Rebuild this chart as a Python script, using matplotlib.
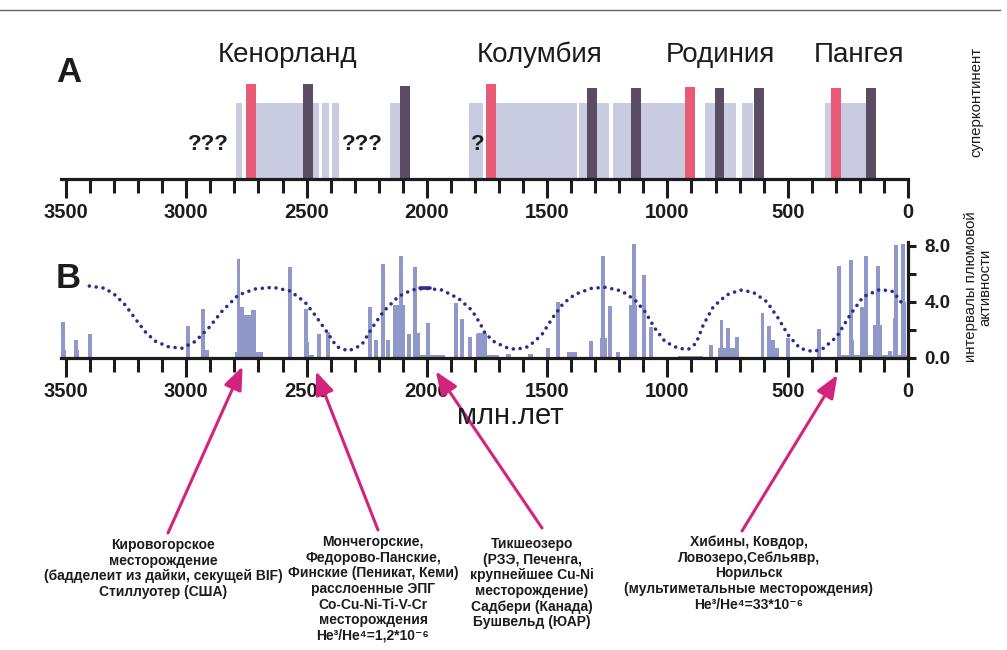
import matplotlib
matplotlib.use('Agg')
import matplotlib.pyplot as plt
from matplotlib.lines import Line2D
from matplotlib.ticker import MultipleLocator

# ---------------- data ----------------
tick_values = [3500, 3000, 2500, 2000, 1500, 1000, 500, 0]
tick_labels = ['3500', '3000', '2500', '2000', '1500', '1000', '500', '0']

supercontinents = ['Кенорланд', 'Колумбия', 'Родиния', 'Пангея']
super_age = [2581, 1530, 781, 204]

# panel A: supercontinent existence intervals (old, young), Ma
light_old = [2795, 2710, 2436, 2393, 2153, 1826, 1712, 1368, 1225, 845, 692, 343]
light_young = [2767, 2447, 2408, 2365, 2112, 1766, 1375, 1243, 887, 715, 644, 171]
light_h = [76] * 12
# assembly events (red)
red_old = [2753, 1755, 928, 321]
red_young = [2710, 1712, 886, 280]
red_h = [95, 95, 92, 91]
# break-up events (dark)
dark_old = [2514, 2112, 1335, 1151, 804, 641, 174]
dark_young = [2472, 2070, 1294, 1110, 763, 599, 132]
dark_h = [95, 93, 91, 91, 91, 91, 91]

question_age = [2909, 2269, 1789]
question_txt = ['???', '???', '?']

# panel B: plume activity intervals - narrow spikes
spike_age = [3511, 3458, 3400, 2992, 2929, 2783, 2569, 2504, 2448, 2412,
             2235, 2211, 2181, 2160, 2107, 2073, 2049, 1994, 1880, 1853,
             1821, 1786, 1498, 1456, 1318, 1267, 1239, 1204, 1138, 1097,
             1070, 820, 775, 747, 712, 605, 578, 561, 543, 500,
             369, 287, 238, 192, 175, 123, 75, 51, 22]
spike_h = [2.55, 1.29, 1.71, 2.31, 3.5, 7.07, 6.52, 3.5, 1.71, 1.83,
           3.67, 1.29, 6.69, 1.29, 7.31, 1.71, 6.52, 2.48, 3.9, 2.76,
           1.52, 1.71, 0.69, 4.02, 1.21, 7.31, 3.74, 0.4, 8.12, 5.93,
           2.2, 0.93, 2.71, 2.12, 1.48, 3.19, 2.29, 1.29, 0.69, 1.4,
           2.07, 6.6, 7.0, 3.67, 7.31, 6.6, 0.5, 8.07, 8.12]
spike_w = 16
# panel B: wider blocks (old, young, height)
block_old = [3520, 3468, 2940, 2798, 2779, 2758, 2731, 2510, 2510, 2139,
             2055, 2030, 1793, 1751, 1671, 1580, 1419, 1280, 1160, 957,
             789, 245, 144, 64, 29, 290]
block_young = [3500, 3448, 2905, 2682, 2758, 2731, 2710, 2490, 2470, 2091,
               2030, 1925, 1751, 1700, 1651, 1560, 1377, 1250, 1128, 854,
               705, 225, 109, 40, 8, 0]
block_h = [0.6, 0.55, 0.57, 0.45, 3.67, 3.1, 3.4, 1.17, 0.2, 3.79,
           1.79, 0.25, 1.76, 0.2, 0.3, 0.3, 0.4, 1.4, 3.79, 0.12,
           0.74, 1.3, 2.36, 2.83, 4.0, 0.2]

# cyclic trend (dotted curve)
curve_age = [3403, 3338, 3296, 3254, 3213, 3171, 3130, 3075, 3019, 2964,
             2908, 2853, 2784, 2714, 2640, 2569, 2507, 2465, 2416, 2375,
             2326, 2271, 2229, 2181, 2119, 2063, 2008, 1938, 1869, 1814,
             1779, 1758, 1717, 1661, 1627, 1578, 1523, 1474, 1433, 1384,
             1315, 1259, 1190, 1135, 1093, 1052, 1010, 955, 913, 881,
             851, 809, 754, 698, 643, 587, 539, 498, 449, 394,
             352, 296, 241, 186, 116, 61, 20]
curve_val = [5.14, 4.98, 4.5, 3.79, 2.83, 1.88, 1.21, 0.81, 0.69, 1.17,
             2.12, 3.31, 4.5, 4.93, 5.05, 4.79, 4.0, 3.07, 1.88, 0.81,
             0.5, 0.93, 2.12, 3.31, 4.38, 4.86, 4.98, 4.86, 4.26, 3.43,
             2.48, 1.76, 1.12, 0.69, 0.62, 0.81, 1.64, 2.95, 3.9, 4.55,
             4.98, 5.05, 4.79, 4.14, 3.31, 2.12, 1.17, 0.69, 0.62, 1.05,
             2.36, 3.67, 4.5, 4.86, 4.69, 4.02, 2.83, 1.64, 0.69, 0.45,
             0.69, 1.52, 3.07, 4.38, 4.9, 4.74, 3.79]
dash_age = [2030, 1985]
dash_val = [4.98, 4.98]

y_ticks_B = [0, 4, 8]
y_labels_B = ['0.0', '4.0', '8.0']

arrow_age = [2766, 2461, 1963, 293]
notes = [
    "Кировогорское\nместорождение\n(бадделеит из дайки, секущей BIF)\nСтиллуотер (США)",
    "Мончегорские,\nФедорово-Панские,\nФинские (Пеникат, Кеми)\nрасслоенные ЭПГ\nCo-Cu-Ni-Ti-V-Cr\nместорождения\nHe³/He⁴=1,2*10⁻⁶",
    "Тикшеозеро\n(РЗЭ, Печенга,\nкрупнейшее Cu-Ni\nместорождение)\nСадбери (Канада)\nБушвельд (ЮАР)",
    "Хибины, Ковдор,\nЛовозеро,Себльявр,\nНорильск\n(мультиметальные месторождения)\nHe³/He⁴=33*10⁻⁶",
]

# ---------------- style ----------------
W, H = 1007, 650
SANS = ['Liberation Sans', 'DejaVu Sans']
plt.rcParams['font.family'] = SANS

C_LIGHT = '#c9cce1'
C_RED = '#e85a75'
C_DARK = '#5a4c62'
C_BAR = '#9097c9'
C_CURVE = '#2b2f8c'
C_ARROW = '#d4237d'
C_TXT = '#1c1c1c'

fig = plt.figure(figsize=(W / 100, H / 100), dpi=100)


def fx(px):
    return px / W


def fy(py):
    return 1 - py / H


X_LEFT, X_RIGHT = 60.7, 908.0
XLIM = (3522, 0)

# frame line
fig.add_artist(Line2D([0, fx(1000)], [fy(10), fy(10)], color='#666666', lw=1.0))


def style_xaxis(ax):
    ax.set_xlim(*XLIM)
    for s in ['top', 'left', 'right']:
        ax.spines[s].set_visible(False)
    ax.spines['bottom'].set_linewidth(2.3)
    ax.spines['bottom'].set_color(C_TXT)
    ax.xaxis.set_minor_locator(MultipleLocator(100))
    ax.set_xticks(tick_values)
    ax.set_xticklabels(tick_labels, fontweight='bold', fontsize=14.5, color=C_TXT)
    ax.tick_params(axis='x', which='major', length=13.5, width=2.2, pad=3.5, color=C_TXT)
    ax.tick_params(axis='x', which='minor', length=10, width=2.2, color=C_TXT)
    ax.patch.set_alpha(0)


# ---------------- panel A ----------------
axA = fig.add_axes([fx(X_LEFT), fy(179), fx(X_RIGHT - X_LEFT), 100 / H])
style_xaxis(axA)
axA.set_ylim(0, 100)
axA.set_yticks([])

axA.bar(light_young, light_h,
        width=[o - y for o, y in zip(light_old, light_young)],
        align='edge', color=C_LIGHT, linewidth=0, zorder=1)
axA.bar(red_young, red_h, width=[o - y for o, y in zip(red_old, red_young)],
        align='edge', color=C_RED, linewidth=0, zorder=2)
axA.bar(dark_young, dark_h, width=[o - y for o, y in zip(dark_old, dark_young)],
        align='edge', color=C_DARK, linewidth=0, zorder=2)

for a, t in zip(question_age, question_txt):
    axA.text(a, 34, t, ha='center', va='center', fontsize=16, fontweight='bold', color=C_TXT)

for a, name in zip(super_age, supercontinents):
    fig.text(fx(X_RIGHT - a * (X_RIGHT - 66) / 3500), fy(55), name, ha='center', va='center',
             fontsize=20, color=C_TXT)

fig.text(fx(69), fy(72), 'A', ha='center', va='center', fontsize=25, fontweight='bold', color=C_TXT)
fig.text(fx(976), fy(102), 'суперконтинент', rotation=90, ha='center', va='center',
         fontsize=10.8, color=C_TXT)

# ---------------- panel B ----------------
axB = fig.add_axes([fx(X_LEFT), fy(358), fx(X_RIGHT - X_LEFT), 8.3 * 14 / H])
style_xaxis(axB)
axB.set_ylim(0, 8.3)
axB.spines['right'].set_visible(True)
axB.spines['right'].set_linewidth(2.3)
axB.spines['right'].set_color(C_TXT)
axB.yaxis.tick_right()
axB.set_yticks(y_ticks_B)
axB.set_yticklabels(y_labels_B, fontweight='bold', fontsize=13.5, color=C_TXT)
axB.yaxis.set_minor_locator(MultipleLocator(2))
axB.tick_params(axis='y', which='both', length=6, width=2.2, pad=6, color=C_TXT)

axB.bar(block_young, block_h, width=[o - y for o, y in zip(block_old, block_young)],
        align='edge', color=C_BAR, linewidth=0, zorder=1)
axB.bar(spike_age, spike_h, width=spike_w, align='center', color=C_BAR, linewidth=0, zorder=1)

axB.plot(curve_age, curve_val, color=C_CURVE, lw=2.6, ls=(0, (0.01, 1.9)),
         dash_capstyle='round', zorder=3, clip_on=False)
axB.plot(dash_age, dash_val, color=C_CURVE, lw=2.6, solid_capstyle='round', zorder=3)

fig.text(fx(68), fy(278), 'B', ha='center', va='center', fontsize=25, fontweight='bold', color=C_TXT)
fig.text(fx(978), fy(287), 'интервалы плюмовой\nактивности', rotation=90, ha='center',
         va='center', multialignment='center', fontsize=10.8, color=C_TXT, linespacing=1.0)
fig.text(fx(510), fy(416), 'млн.лет', ha='center', va='center', fontsize=21, color=C_TXT)

# ---------------- arrows & notes ----------------
arrow_tail = [(168, 533), (378, 530), (542, 528), (742, 531)]
arrow_tip_y = [-0.6, -0.95, -0.95, -1.2]
for a, ty, (tx, tyy) in zip(arrow_age, arrow_tip_y, arrow_tail):
    axB.annotate('', xy=(a, ty), xycoords='data',
                 xytext=(fx(tx), fy(tyy)), textcoords='figure fraction',
                 arrowprops=dict(arrowstyle='-|>,head_length=0.5,head_width=0.2',
                                 color=C_ARROW, lw=2.2, shrinkA=0, shrinkB=0,
                                 mutation_scale=28),
                 annotation_clip=False)

note_pos = [(163, 538), (373, 535), (532, 537), (749, 535)]
for (nx, ny), t in zip(note_pos, notes):
    fig.text(fx(nx), fy(ny), t, ha='center', va='top', multialignment='center',
             fontsize=10, fontweight='bold', color=C_TXT, linespacing=1.15,
             family=['Liberation Sans', 'DejaVu Sans'])

fig.savefig('out.png', dpi=100)
